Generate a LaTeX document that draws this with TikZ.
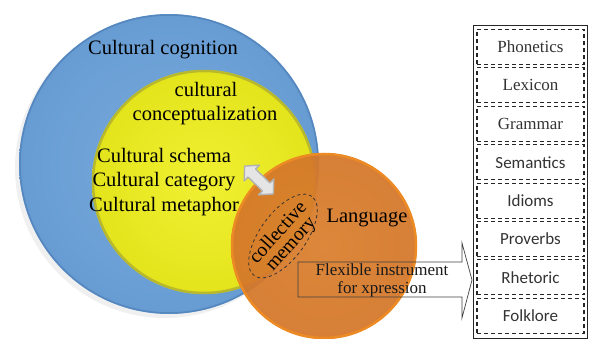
\documentclass[tikz,border=0pt]{standalone}
\usepackage{fontspec}
\setmainfont{Liberation Serif}
\newfontfamily\calibri{Carlito}
\usetikzlibrary{shapes.geometric}
\definecolor{cogblue}{HTML}{679CD3}
\definecolor{cogbluelt}{HTML}{78ABDD}
\definecolor{cogrim}{HTML}{5686BE}
\definecolor{conyel}{HTML}{E4E41C}
\definecolor{conyellt}{HTML}{F0F032}
\definecolor{conrim}{HTML}{B8B82E}
\definecolor{lang}{HTML}{D4772A}
\definecolor{langlt}{HTML}{DA7F2E}
\definecolor{langrim}{HTML}{EC8A24}
\tikzset{
  bigtext/.style  = {font=\fontsize{20.5}{24.5}\selectfont, text=black, inner sep=0},
  midtext/.style  = {font=\fontsize{17}{18}\selectfont, text=black!90, inner sep=0},
  itembox/.style  = {draw=black!85, line width=1.1pt, dash pattern=on 4pt off 3pt,
                     minimum width=107pt, minimum height=35pt, inner sep=0,
                     font=\fontsize{17}{18}\selectfont, text=black!80}
}

\begin{document}
\begin{tikzpicture}[x=1pt,y=-1pt]
  \useasboundingbox (0,0) rectangle (589,339);
  \pgfmathsetmacro{\rcog}{150}     % radius of cognition circle
  \pgfmathsetmacro{\rcon}{112}     % radius of conceptualization circle
  \pgfmathsetmacro{\rlan}{93}      % radius of language circle
  \pgfmathsetmacro{\ytop}{47}      % centre of first item box
  \pgfmathsetmacro{\dy}{38.4}      % distance of item boxes
  % circle centres
  \coordinate (cog) at (169,164);
  \coordinate (con) at (204,182);
  \coordinate (lan) at (324,246);
  % cultural cognition
  \fill[black,opacity=0.06] (165,168) circle (\rcog);
  \shade[inner color=cogbluelt,outer color=cogblue] (cog) circle (\rcog);
  \draw[cogrim,line width=1.5pt] (cog) circle ({\rcog-1});
  \node[bigtext,anchor=base] (cognition) at (163,55) {Cultural cognition};
  % cultural conceptualization
  \shade[inner color=conyellt,outer color=conyel] (con) circle (\rcon);
  \draw[conrim,line width=2.5pt] (con) circle ({\rcon-1});
  \node[bigtext,anchor=base] (cultural) at (206,97) {cultural};
  \node[bigtext,anchor=base] (concept) at (205,121) {conceptualization};
  \node[bigtext,anchor=base] (schema) at (164,163) {Cultural schema};
  \node[bigtext,anchor=base] (category) at (164,187) {Cultural category};
  \node[bigtext,anchor=base] (metaphor) at (164,212) {Cultural metaphor};
  % language
  \shade[inner color=langlt,outer color=lang,opacity=0.94] (lan) circle (\rlan);
  \draw[langrim,line width=2.5pt] (lan) circle ({\rlan-1});
  \node[bigtext,anchor=base] (language) at (367,223) {Language};
  % link between the circles
  \coordinate (link) at (259,180);
  \begin{scope}[shift={(link)},rotate=-44]
    \draw[fill=gray!20,draw=gray!60,line width=1.4pt,line join=round]
      (-20,0) -- (-10,11) -- (-10,5.5) -- (10,5.5) -- (10,11) -- (20,0)
      -- (10,-11) -- (10,-5.5) -- (-10,-5.5) -- (-10,-11) -- cycle;
  \end{scope}
  % collective memory
  \node[ellipse,draw=black!80,dashed,line width=0.8pt,rotate=54,
        minimum width=98pt,minimum height=46pt] (memellipse) at (283,236) {};
  \node[font=\fontsize{19.5}{17}\selectfont,text=black,inner sep=0,
        rotate=48,align=center] (memory) at (285,239) {collective\\memory};
  % flexible instrument
  \node[midtext,align=center] (flex) at (382,280) {Flexible instrument\\for xpression};
  \coordinate (tip) at (472,280);
  \draw[black!75,line width=0.7pt] (298,262) -- (462,262) -- (462,243) -- (tip)
    -- (462,318) -- (462,297) -- (298,297) -- cycle;
  % items of language
  \draw[black!85,line width=0.9pt] (473,25) rectangle (587,338);
  \foreach \item/\fnt [count=\i from 0] in {Phonetics/\rmfamily,Lexicon/\rmfamily,
      Grammar/\rmfamily,Semantics/\calibri,Idioms/\calibri,Proverbs/\calibri,
      Rhetoric/\calibri,Folklore/\calibri}
    \node[itembox] (item\i) at (530.5,{\ytop+\i*\dy}) {\fnt\item};
\end{tikzpicture}
\end{document}
